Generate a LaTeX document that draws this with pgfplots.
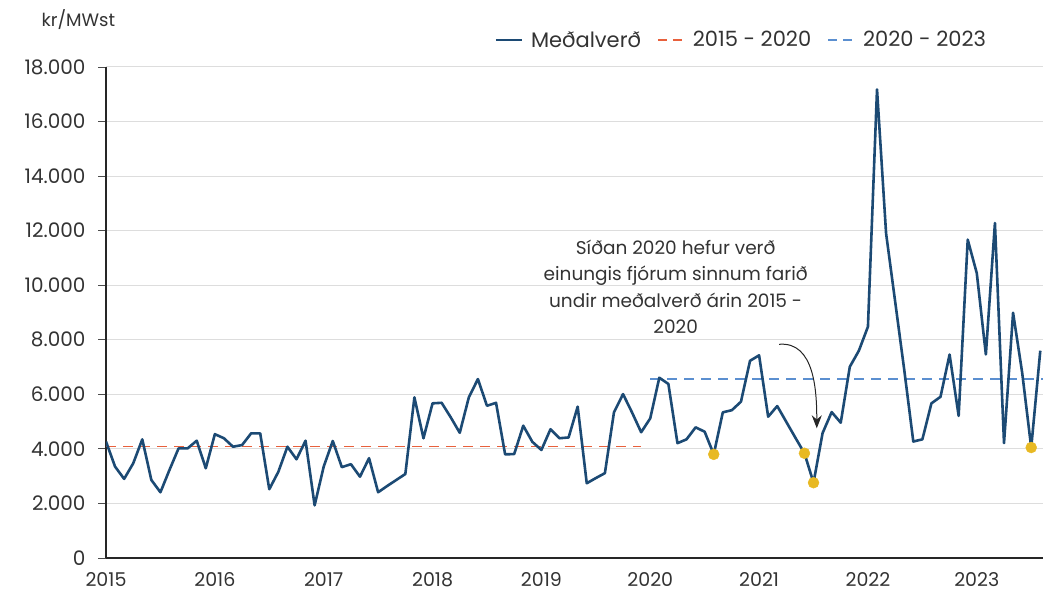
\documentclass[border=0pt]{standalone}
\usepackage{fontspec}
\setmainfont{Poppins}
\usepackage{pgfplots}
\pgfplotsset{compat=1.18}
\usetikzlibrary{arrows.meta}
\definecolor{navy}{HTML}{1C4A74}
\definecolor{redd}{HTML}{E8603C}
\definecolor{blued}{HTML}{5B8FD0}
\definecolor{gold}{HTML}{E8B923}
\definecolor{txt}{HTML}{333333}
\definecolor{gridc}{HTML}{DDDDDD}
\pgfplotstableread{
i v
0 4270
1 3350
2 2900
3 3470
4 4350
5 2860
6 2410
7 3230
8 4020
9 4020
10 4300
11 3290
12 4540
13 4390
14 4080
15 4140
16 4570
17 4570
18 2520
19 3160
20 4080
21 3620
22 4300
23 1930
24 3350
25 4290
26 3330
27 3440
28 2980
29 3660
30 2410
31 2640
32 2860
33 3080
34 5890
35 4390
36 5670
37 5690
38 5160
39 4590
40 5890
41 6560
42 5580
43 5690
44 3800
45 3810
46 4850
47 4260
48 3960
49 4720
50 4390
51 4420
52 5550
53 2740
54 2930
55 3110
56 5340
57 6010
58 5330
59 4610
60 5120
61 6610
62 6380
63 4210
64 4350
65 4790
66 4630
67 3800
68 5340
69 5420
70 5730
71 7230
72 7430
73 5180
74 5570
75 4990
76 4410
77 3840
78 2760
79 4580
80 5350
81 4960
82 7010
83 7600
84 8480
85 17180
86 11900
87 9400
88 6900
89 4270
90 4350
91 5670
92 5910
93 7460
94 5210
95 11670
96 10440
97 7460
98 12280
99 4210
100 8990
101 6800
102 4050
103 7600
}\price
\pgfplotstableread{
i v
67 3800
77 3840
78 2760
102 4050
}\dots
\begin{document}
\begin{tikzpicture}
\path[use as bounding box] (0pt,0pt) rectangle (1043pt,595pt);
\begin{axis}[
  at={(106pt,37pt)}, anchor=south west,
  scale only axis, width=937pt, height=491pt,
  xmin=0, xmax=103.3, ymin=0, ymax=18000,
  scaled y ticks=false,
  axis x line*=bottom, axis y line*=left,
  axis line style={black!85, line width=1.3pt},
  xtick={0,12,24,36,48,60,72,84,96},
  xticklabels={2015,2016,2017,2018,2019,2020,2021,2022,2023},
  xtick style={draw=none},
  ytick={0,2000,4000,6000,8000,10000,12000,14000,16000,18000},
  yticklabels={0,2.000,4.000,6.000,8.000,10.000,12.000,14.000,16.000,18.000},
  ytick style={black!70, line width=0.8pt},
  tick align=outside, major tick length=8pt,
  ymajorgrids, grid style={gridc, line width=1pt},
  yticklabel style={font=\fontsize{20}{22}\selectfont, text=txt, xshift=-9pt},
  xticklabel style={font=\fontsize{19}{21}\selectfont, text=txt, yshift=-3pt},
  legend style={at={(0.678,1.055)}, anchor=center, draw=none, fill=none,
    legend columns=3, font=\fontsize{21}{23}\selectfont, text=txt,
    /tikz/every odd column/.append style={column sep=6pt},
    /tikz/every even column/.append style={column sep=14pt}},
  legend image code/.code={\draw[#1] (0pt,0pt) -- (26pt,0pt);},
]
\addlegendimage{navy, line width=2.6pt}
\addlegendentry{Meðalverð}
\addlegendimage{redd, line width=1.8pt, dash pattern=on 9pt off 6pt}
\addlegendentry{2015 - 2020}
\addlegendimage{blued, line width=1.8pt, dash pattern=on 9pt off 6pt}
\addlegendentry{2020 - 2023}
\addplot[forget plot, redd, line width=1.8pt, dash pattern=on 10pt off 7pt] coordinates {(0,4090) (59,4090)};
\addplot[forget plot, blued, line width=1.8pt, dash pattern=on 10pt off 7pt] coordinates {(60,6550) (103.3,6550)};
\addplot[forget plot, navy, line width=2.6pt, line join=round] table[x=i,y=v] {\price};
\addplot[forget plot, only marks, mark=*, mark size=5.5pt, gold, mark options={draw=none, fill=gold}] table[x=i,y=v] {\dots};
\draw[-{Stealth[length=13pt,width=10pt]}, black!85, line width=1pt] (axis cs:74.2,7834) to[out=5,in=90] (axis cs:78.36,4755);
\node[align=center, text=txt, font=\fontsize{18.5}{26.5}\selectfont] at (axis cs:62.8,9935) {Síðan 2020 hefur verð\\einungis fjórum sinnum farið\\undir meðalverð árin 2015 -\\2020};
\end{axis}
\node[anchor=west, text=txt, font=\fontsize{18}{20}\selectfont] at (38pt,575pt) {kr/MWst};
\end{tikzpicture}
\end{document}
